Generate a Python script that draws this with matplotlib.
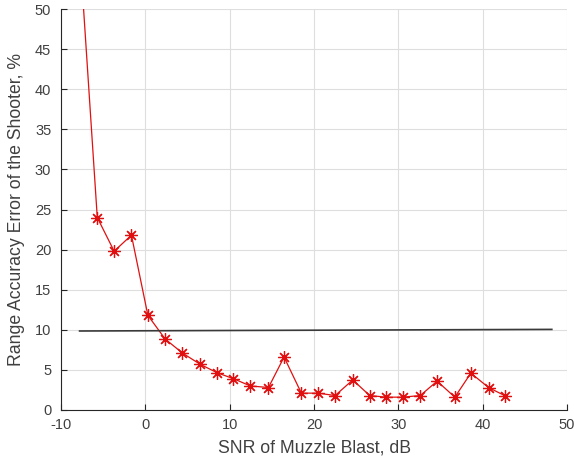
import matplotlib.pyplot as plt

plt.rcParams['font.family'] = ['Liberation Sans', 'DejaVu Sans']
plt.rcParams['axes.unicode_minus'] = False

# SNR of muzzle blast (dB) and range accuracy error (%)
snr = [-7.7, -5.7, -3.7, -1.65, 0.3, 2.35, 4.4, 6.5, 8.5, 10.45, 12.45, 14.6,
       16.45, 18.5, 20.5, 22.5, 24.6, 26.6, 28.55, 30.5, 32.6, 34.6, 36.7,
       38.6, 40.7, 42.6]
error = [56.0, 24.0, 19.8, 21.8, 11.8, 8.85, 7.1, 5.7, 4.65, 3.9, 3.0, 2.8,
         6.6, 2.1, 2.1, 1.8, 3.75, 1.8, 1.6, 1.6, 1.8, 3.6, 1.6, 4.6, 2.8, 1.8]

# threshold line
thr_x = [-7.8, 48.2]
thr_y = [9.85, 10.05]

fig = plt.figure(figsize=(5.74, 4.65), dpi=100)
ax = fig.add_axes([0.1063, 0.1183, 0.8815, 0.8623])

ax.plot(snr, error, color='#e01010', linewidth=0.9, marker=(8, 2, 0),
        markersize=9, markeredgewidth=0.9, clip_on=True)
ax.plot(thr_x, thr_y, color='#3a3a3a', linewidth=1.2)

ax.set_xlim(-10, 50)
ax.set_ylim(0, 50)
ax.set_xticks(range(-10, 51, 10))
ax.set_yticks(range(0, 51, 5))

ax.grid(True, color='#dedede', linewidth=0.8)
ax.set_axisbelow(True)
for s in ['top', 'right']:
    ax.spines[s].set_visible(False)
for s in ['left', 'bottom']:
    ax.spines[s].set_color('#262626')
    ax.spines[s].set_linewidth(0.8)
ax.tick_params(direction='in', length=4, colors='#262626', labelsize=10.5)
ax.tick_params(axis='x', pad=6)
ax.tick_params(axis='y', pad=7)
for lab in ax.get_xticklabels() + ax.get_yticklabels():
    lab.set_color('#404040')

ax.set_xlabel('SNR of Muzzle Blast, dB', fontsize=12.7, color='#404040', labelpad=5)
ax.set_ylabel('Range Accuracy Error of the Shooter, %', fontsize=12.7,
              color='#404040', labelpad=7)

fig.savefig('out.png', dpi=100)
